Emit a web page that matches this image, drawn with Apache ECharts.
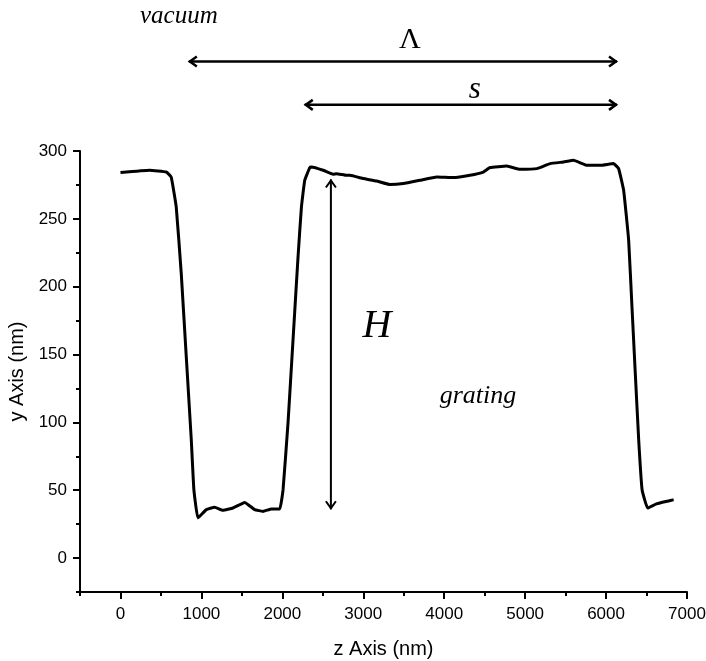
<!DOCTYPE html>
<html>
<head>
<meta charset="utf-8">
<script src="https://cdn.jsdelivr.net/npm/echarts@6/dist/echarts.min.js"></script>
<style>
html,body{margin:0;padding:0;background:#fff;}
#chart{width:706px;height:661px;}
</style>
</head>
<body>
<div id="chart"></div>
<script>
// Profile data (z in nm, y in nm)
const zValues = [0, 359, 566, 627, 689, 751, 813, 875, 907, 957, 1061, 1163, 1266, 1390, 1535, 1658, 1761, 1865, 1968, 2009, 2070, 2132, 2194, 2236, 2277, 2339, 2360, 2504, 2627, 2670, 2793, 2834, 2999, 3165, 3329, 3494, 3700, 3907, 4113, 4319, 4484, 4567, 4773, 4938, 5145, 5309, 5474, 5598, 5764, 5928, 6093, 6155, 6217, 6279, 6320, 6361, 6403, 6445, 6514, 6630, 6835];
const yValues = [284.1, 285.8, 284.5, 280.8, 258.8, 209.8, 148.4, 87.2, 50.4, 29.6, 35.7, 37.4, 35.2, 36.9, 41.0, 35.7, 34.4, 36.2, 36.2, 50.4, 99.5, 160.7, 222, 258.8, 278.4, 287.8, 288.2, 285.8, 282.8, 283.3, 282.1, 282.1, 279.7, 277.9, 275.3, 276, 278.4, 280.9, 280.4, 282.1, 284.5, 287.8, 288.9, 286.5, 287, 290.7, 291.9, 293.1, 289.5, 289.5, 290.7, 287, 271.1, 234.3, 185.2, 136.2, 87.2, 50.4, 36.9, 40.1, 43];

// Tick values
const xMajorTicks = [0, 1000, 2000, 3000, 4000, 5000, 6000, 7000];
const xMinorTicks = [-500, 500, 1500, 2500, 3500, 4500, 5500, 6500];
const yMajorTicks = [0, 50, 100, 150, 200, 250, 300];
const yMinorTicks = [-25, 25, 75, 125, 175, 225, 275];

// Annotation arrows (data coordinates)
const lambdaArrow = {x1: 845, x2: 6135, y: 366};
const sArrow = {x1: 2277, x2: 6135, y: 334};
const hArrow = {x: 2600, y1: 36, y2: 279};

const points = zValues.map((z, i) => [z, yValues[i]]);

const chart = echarts.init(document.getElementById('chart'), null, {renderer: 'canvas'});

const tickFont = {fontFamily: 'Liberation Sans, Arial, sans-serif', fontSize: 17, color: '#000'};
const nameFont = {fontFamily: 'Liberation Sans, Arial, sans-serif', fontSize: 20, color: '#000'};

chart.setOption({
  backgroundColor: '#fff',
  animation: false,
  grid: {left: 80, right: 19, top: 151, bottom: 69, containLabel: false, outerBoundsMode: 'none'},
  xAxis: [{
    type: 'value', min: -500, max: 7000, position: 'bottom',
    name: 'z Axis (nm)', nameLocation: 'middle', nameGap: 47, nameTextStyle: nameFont,
    axisLine: {show: true, onZero: false, lineStyle: {color: '#000', width: 2}},
    axisTick: {show: true, inside: false, length: 7, customValues: xMajorTicks, lineStyle: {color: '#000', width: 2}},
    axisLabel: {show: true, margin: 14, customValues: xMajorTicks, formatter: v => String(v), ...tickFont},
    splitLine: {show: false}
  }, {
    type: 'value', min: -500, max: 7000, position: 'bottom',
    axisLine: {show: false, onZero: false},
    axisTick: {show: true, inside: false, length: 4, customValues: xMinorTicks, lineStyle: {color: '#000', width: 2}},
    axisLabel: {show: false},
    splitLine: {show: false}
  }],
  yAxis: [{
    type: 'value', min: -25, max: 300, position: 'left',
    name: 'y Axis (nm)', nameLocation: 'middle', nameGap: 52, nameTextStyle: nameFont,
    axisLine: {show: true, onZero: false, lineStyle: {color: '#000', width: 2}},
    axisTick: {show: true, inside: false, length: 7, customValues: yMajorTicks, lineStyle: {color: '#000', width: 2}},
    axisLabel: {show: true, margin: 13, customValues: yMajorTicks, formatter: v => String(v), ...tickFont},
    splitLine: {show: false}
  }, {
    type: 'value', min: -25, max: 300, position: 'left',
    axisLine: {show: false, onZero: false},
    axisTick: {show: true, inside: false, length: 4, customValues: yMinorTicks, lineStyle: {color: '#000', width: 2}},
    axisLabel: {show: false},
    splitLine: {show: false}
  }],
  series: [{
    type: 'line',
    xAxisIndex: 0, yAxisIndex: 0,
    data: points,
    showSymbol: false,
    smooth: 0.1,
    lineStyle: {color: '#000', width: 3},
    clip: false
  }]
});

function px(x, y) { return chart.convertToPixel({xAxisIndex: 0, yAxisIndex: 0}, [x, y]); }

function hArrowShapes(x1, x2, y) {
  const a = px(x1, y), b = px(x2, y);
  const st = {stroke: '#000', lineWidth: 2.5, fill: null};
  return [
    {type: 'line', shape: {x1: a[0], y1: a[1], x2: b[0], y2: b[1]}, style: st},
    {type: 'polyline', shape: {points: [[a[0] + 8, a[1] - 5], [a[0] + 1, a[1]], [a[0] + 8, a[1] + 5]]}, style: st},
    {type: 'polyline', shape: {points: [[b[0] - 8, b[1] - 5], [b[0] - 1, b[1]], [b[0] - 8, b[1] + 5]]}, style: st}
  ];
}
function vArrowShapes(x, y1, y2) {
  const a = px(x, y1), b = px(x, y2);
  const st = {stroke: '#000', lineWidth: 2, fill: null};
  return [
    {type: 'line', shape: {x1: a[0], y1: a[1], x2: b[0], y2: b[1]}, style: st},
    {type: 'polyline', shape: {points: [[a[0] - 5, a[1] - 8], [a[0], a[1] - 1], [a[0] + 5, a[1] - 8]]}, style: st},
    {type: 'polyline', shape: {points: [[b[0] - 5, b[1] + 8], [b[0], b[1] + 1], [b[0] + 5, b[1] + 8]]}, style: st}
  ];
}

const serif = 'Liberation Serif, Times New Roman, serif';
const lamC = px((lambdaArrow.x1 + lambdaArrow.x2) / 2, lambdaArrow.y);
const sC = px((sArrow.x1 + sArrow.x2) / 2, sArrow.y);

const graphics = [].concat(
  hArrowShapes(lambdaArrow.x1, lambdaArrow.x2, lambdaArrow.y),
  hArrowShapes(sArrow.x1, sArrow.x2, sArrow.y),
  vArrowShapes(hArrow.x, hArrow.y1, hArrow.y2),
  [
    {type: 'text', x: 140, y: 16, style: {text: 'vacuum', font: 'italic 25px ' + serif, fill: '#000', textAlign: 'left', textVerticalAlign: 'middle'}},
    {type: 'text', x: lamC[0] + 7, y: 40, style: {text: 'Λ', font: '30px ' + serif, fill: '#000', textAlign: 'center', textVerticalAlign: 'middle'}},
    {type: 'text', x: sC[0] + 14, y: 90, style: {text: 's', font: 'italic 31px ' + serif, fill: '#000', textAlign: 'center', textVerticalAlign: 'middle'}},
    {type: 'text', x: 377, y: 326, style: {text: 'H', font: 'italic 40px ' + serif, fill: '#000', textAlign: 'center', textVerticalAlign: 'middle'}},
    {type: 'text', x: 478, y: 396, style: {text: 'grating', font: 'italic 26px ' + serif, fill: '#000', textAlign: 'center', textVerticalAlign: 'middle'}}
  ]
);

chart.setOption({graphic: graphics});
</script>
</body>
</html>
